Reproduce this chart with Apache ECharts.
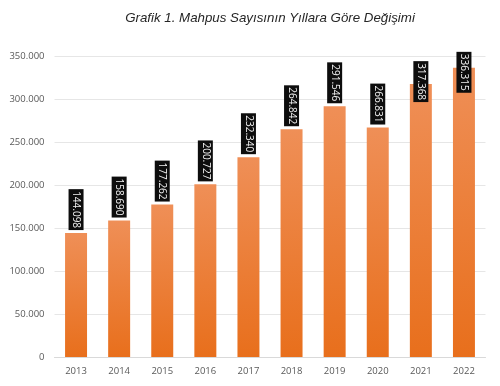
<!DOCTYPE html>
<html><head><meta charset="utf-8">
<script src="https://cdn.jsdelivr.net/npm/echarts@6/dist/echarts.min.js"></script>
<style>html,body{margin:0;padding:0;background:#fff}#c{width:500px;height:386px}</style>
</head><body><div id="c"></div>
<script>
const titleText = 'Grafik 1. Mahpus Sayısının Yıllara Göre Değişimi';
const years = ['2013','2014','2015','2016','2017','2018','2019','2020','2021','2022'];
const prisoners = [144098,158690,177262,200727,232340,264842,291546,266831,317368,336315];
const yTicks = [0,50000,100000,150000,200000,250000,300000,350000];

function fmt(v){ return String(v).replace(/\B(?=(\d{3})+(?!\d))/g,'.'); }

const chart = echarts.init(document.getElementById('c'), null, {renderer:'canvas'});
const shifted = {8:21, 9:28};
chart.setOption({
  animation:false,
  title:{text:titleText,left:265,top:7,textAlign:'center',
    textStyle:{fontFamily:'Liberation Sans',fontStyle:'italic',fontWeight:'normal',fontSize:13.3,color:'#262626'}},
  grid:{left:54.5,right:14.5,top:56,bottom:29},
  xAxis:{type:'category',data:years,
    axisLine:{lineStyle:{color:'#d9d9d9'}},axisTick:{show:false},
    axisLabel:{color:'#595959',fontSize:9.5,fontFamily:'Open Sans',margin:9}},
  yAxis:{type:'value',min:yTicks[0],max:yTicks[yTicks.length-1],interval:50000,
    axisLine:{show:false},axisTick:{show:false},
    splitLine:{lineStyle:{color:'#e6e6e6'}},
    axisLabel:{color:'#595959',fontSize:9.5,fontFamily:'Open Sans',margin:10,formatter:fmt}},
  series:[{type:'bar',barWidth:'51%',
    data:prisoners.map((v,i)=>({value:v,label:shifted[i]?{offset:[shifted[i],0]}:undefined})),
    itemStyle:{color:new echarts.graphic.LinearGradient(0,0,0,1,[{offset:0,color:'#EF8F57'},{offset:1,color:'#E86F1C'}])},
    label:{show:true,position:'top',rotate:-90,align:'right',verticalAlign:'middle',distance:3,
      formatter:p=>fmt(p.value),color:'#f2f2f2',fontSize:10,fontFamily:'Open Sans',
      backgroundColor:'#0d0d0d',padding:[2,2,1,2],lineHeight:12}
  }]
});
</script></body></html>
